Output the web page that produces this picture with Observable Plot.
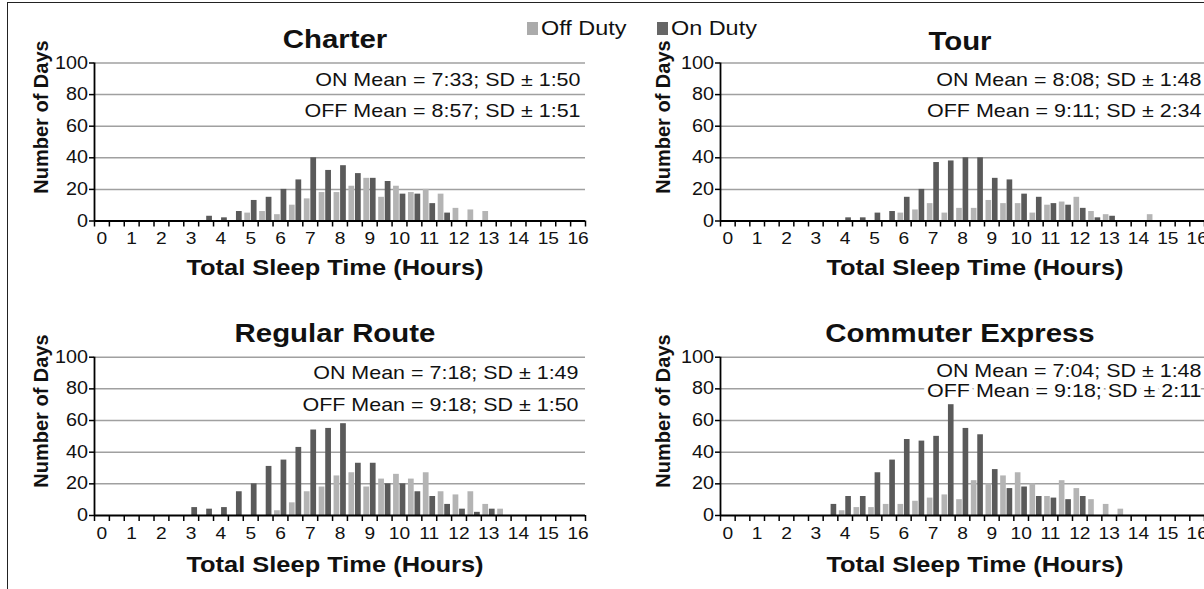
<!DOCTYPE html>
<html><head><meta charset="utf-8">
<script src="https://cdn.jsdelivr.net/npm/d3@7"></script>
<script src="https://cdn.jsdelivr.net/npm/@observablehq/plot@0.6"></script>
<style>
body{margin:0;background:#fff;font-family:"Liberation Sans",Arial,sans-serif;}
#wrap{position:relative;width:1204px;height:589px;overflow:hidden;background:#fff;}
.frame{position:absolute;left:7px;top:2px;width:1300px;height:700px;border:1.5px solid #222;box-sizing:border-box;}
.t{position:absolute;white-space:nowrap;color:#111;line-height:1;}
.panel{position:absolute;}
.panel svg{overflow:visible;}
.sw{position:absolute;width:11px;height:13px;}
</style></head><body><div id="wrap"><div class="frame"></div></div>
<script>
// ---- data ----
const hourBins = [0,0.5,1,1.5,2,2.5,3,3.5,4,4.5,5,5.5,6,6.5,7,7.5,8,8.5,9,9.5,10,10.5,11,11.5,12,12.5,13,13.5,14,14.5,15,15.5,16];
const xLabels = [0,1,2,3,4,5,6,7,8,9,10,11,12,13,14,15,16];
const yTicks = [0,20,40,60,80,100];

const charterOff = [0,0,0,0,0,0,0,0,0,0,5,6,4,10,14,18,18,22,27,15,22,18,20,17,8,7,6,0,0,0,0,0,0];
const charterOn  = [0,0,0,0,0,0,0,3,2,6,13,15,20,26,40,32,35,30,27,25,17,17,11,5,0,0,0,0,0,0,0,0,0];
const tourOff    = [0,0,0,0,0,0,0,0,0,0,0,0,5,7,11,5,8,8,13,11,11,5,10,12,15,6,4,0,0,4,0,0,0];
const tourOn     = [0,0,0,0,0,0,0,0,2,2,5,6,15,20,37,38,40,40,27,26,17,15,11,10,8,2,3,0,0,0,0,0,0];
const routeOff   = [0,0,0,0,0,0,0,0,0,0,0,0,3,8,15,18,25,27,18,23,26,23,27,15,13,15,7,4,0,0,0,0,0];
const routeOn    = [0,0,0,0,0,0,5,4,5,15,20,31,35,43,54,55,58,33,33,20,20,15,12,7,4,2,4,0,0,0,0,0,0];
const commuterOff= [0,0,0,0,0,0,0,0,3,5,5,7,7,9,11,13,10,22,20,25,27,20,12,22,17,10,7,4,0,0,0,0,0];
const commuterOn = [0,0,0,0,0,0,0,7,12,12,27,35,48,47,50,70,55,51,29,17,18,12,11,10,12,0,0,0,0,0,0,0,0];

const titles = ["Charter","Tour","Regular Route","Commuter Express"];
const onStats = ["ON Mean = 7:33; SD \u00b1 1:50","ON Mean = 8:08; SD \u00b1 1:48","ON Mean = 7:18; SD \u00b1 1:49","ON Mean = 7:04; SD \u00b1 1:48"];
const offStats = ["OFF Mean = 8:57; SD \u00b1 1:51","OFF Mean = 9:11; SD \u00b1 2:34","OFF Mean = 9:18; SD \u00b1 1:50","OFF Mean = 9:18; SD \u00b1 2:11"];
const legendLabels = ["Off Duty","On Duty"];
const xTitle = "Total Sleep Time (Hours)";
const yTitle = "Number of Days";
const series = [[charterOff,charterOn],[tourOff,tourOn],[routeOff,routeOn],[commuterOff,commuterOn]];

// ---- style / layout ----
const offColor = "#b4b4b4", onColor = "#5a5a5a", gridColor = "#a0a0a0";
const FONT = "'Liberation Sans', Arial, sans-serif";
const S = 1.13; // horizontal text stretch
const layouts = [
 {left:0,top:0,width:600,height:300,ml:94,mr:15,mt:62.5,mb:79.5,onDy:16.5,offDy:47.5,dx:-5,tX:335,tY:39,xtX:335,xtY:268,ytX:41,ytY:117},
 {left:600,top:0,width:604,height:300,ml:120,mr:0,mt:62.5,mb:79.5,onDy:16.5,offDy:47.5,dx:-3,tX:960,tY:41,xtX:975,xtY:268,ytX:663,ytY:117},
 {left:0,top:290,width:600,height:299,ml:94,mr:15,mt:66.7,mb:74,onDy:15.5,offDy:47.5,dx:-7,tX:335,tY:333,xtX:335,xtY:565,ytX:41,ytY:411},
 {left:600,top:290,width:604,height:299,ml:120,mr:0,mt:66.7,mb:74,onDy:13.5,offDy:33.5,dx:-3,tX:960,tY:333,xtX:975,xtY:565,ytX:663,ytY:411}
];

const wrap = document.getElementById("wrap");
function addText(str, x, y, size, weight, opts={}) {
  const d = document.createElement("div");
  d.className = "t";
  d.textContent = str;
  d.style.left = x + "px"; d.style.top = y + "px";
  d.style.fontSize = size + "px"; d.style.fontWeight = weight;
  const anchor = opts.anchor || "center";
  const tx = anchor === "center" ? "-50%" : "0";
  d.style.transform = `translate(${tx},-50%)` + (opts.rotate ? " rotate(-90deg)" : ` scaleX(${opts.s || 1})`);
  d.style.transformOrigin = anchor === "center" ? "50% 50%" : "0 50%";
  wrap.appendChild(d);
  return d;
}

const boundaries = [hourBins[0] - 0.25, ...hourBins.map(h => h + 0.25)];
const xDomain = [boundaries[0], boundaries[boundaries.length - 1]];

series.forEach(([off, on], i) => {
  const L = layouts[i];
  const data = hourBins.map((h, k) => ({h, off: off[k], on: on[k]}));
  const svg = Plot.plot({
    width: L.width, height: L.height,
    marginLeft: L.ml, marginRight: L.mr, marginTop: L.mt, marginBottom: L.mb,
    x: {domain: xDomain, axis: null},
    y: {domain: [0, 100], axis: null},
    style: {fontFamily: FONT, background: "transparent", color: "#111", overflow: "visible"},
    marks: [
      Plot.gridY(yTicks.filter(v => v > 0), {stroke: gridColor, strokeOpacity: 1, strokeWidth: 1.5}),
      Plot.rectY(data.filter(d => d.off > 0), {x1: d => d.h - 0.25, x2: d => d.h, y: "off", fill: offColor, insetLeft: 1.5, insetRight: 0.2}),
      Plot.rectY(data.filter(d => d.on > 0), {x1: d => d.h, x2: d => d.h + 0.25, y: "on", fill: onColor, insetLeft: 0.6, insetRight: 1.1}),
      Plot.ruleY([0], {stroke: "#000", strokeWidth: 1.8}),
      Plot.ruleX([xDomain[0]], {y1: 0, y2: 100, stroke: "#000", strokeWidth: 1.8}),
      Plot.axisY(yTicks, {tickSize: 5, tickPadding: 1.5, fontSize: 17.5, stroke: "#000", strokeWidth: 1.5}),
      Plot.axisX(boundaries, {tickSize: 6, tickFormat: () => "", stroke: "#000", strokeWidth: 1.5}),
      Plot.axisX(xLabels, {tickSize: 0, tickPadding: 11, fontSize: 17}),
      Plot.text([onStats[i]], {frameAnchor: "top-right", lineAnchor: "middle", dx: L.dx, dy: L.onDy, fontSize: 19, fill: "#111", stroke: "white", strokeWidth: 7, textAnchor: "end"}),
      Plot.text([offStats[i]], {frameAnchor: "top-right", lineAnchor: "middle", dx: L.dx, dy: L.offDy, fontSize: 19, fill: "#111", stroke: "white", strokeWidth: 7, textAnchor: "end"})
    ]
  });
  svg.querySelectorAll("text").forEach(t => {
    const tr = t.getAttribute("transform") || "";
    t.setAttribute("transform", tr + ` scale(${S},1)`);
  });
  const div = document.createElement("div");
  div.className = "panel";
  div.style.left = L.left + "px"; div.style.top = L.top + "px";
  div.appendChild(svg);
  wrap.appendChild(div);
  addText(titles[i], L.tX, L.tY, 26, "bold", {s: S});
  addText(xTitle, L.xtX, L.xtY, 22.5, "bold", {s: S});
  addText(yTitle, L.ytX, L.ytY, 20, "bold", {rotate: true});
});

// legend
const sw1 = document.createElement("div"); sw1.className = "sw"; sw1.style.left = "527px"; sw1.style.top = "22px"; sw1.style.background = "#ababab"; wrap.appendChild(sw1);
addText(legendLabels[0], 541, 29, 19.5, "normal", {anchor: "left", s: 1.2});
const sw2 = document.createElement("div"); sw2.className = "sw"; sw2.style.left = "657px"; sw2.style.top = "22px"; sw2.style.background = "#666"; wrap.appendChild(sw2);
addText(legendLabels[1], 671, 29, 19.5, "normal", {anchor: "left", s: 1.2});
</script></body></html>
